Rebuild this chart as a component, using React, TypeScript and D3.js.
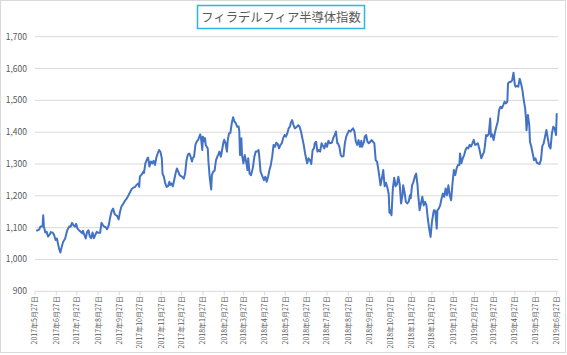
import React from 'react';
import * as d3 from 'd3';

const TITLE = 'フィラデルフィア半導体指数';
const Y_TICKS = [900, 1000, 1100, 1200, 1300, 1400, 1500, 1600, 1700];
const X_TICKS = [
  '2017-05-27', '2017-06-27', '2017-07-27', '2017-08-27', '2017-09-27', '2017-10-27', '2017-11-27', '2017-12-27',
  '2018-01-27', '2018-02-27', '2018-03-27', '2018-04-27', '2018-05-27', '2018-06-27', '2018-07-27', '2018-08-27',
  '2018-09-27', '2018-10-27', '2018-11-27', '2018-12-27', '2019-01-27', '2019-02-27', '2019-03-27', '2019-04-27',
  '2019-05-27', '2019-06-27',
];

const DATES = [
  '2017-05-30','2017-06-02','2017-06-04','2017-06-07','2017-06-08','2017-06-09','2017-06-11','2017-06-13','2017-06-15','2017-06-17',
  '2017-06-19','2017-06-22','2017-06-24','2017-06-26','2017-06-28','2017-06-30','2017-07-01','2017-07-03','2017-07-05','2017-07-07',
  '2017-07-10','2017-07-13','2017-07-16','2017-07-18','2017-07-20','2017-07-22','2017-07-24','2017-07-26','2017-07-28','2017-07-31',
  '2017-08-02','2017-08-04','2017-08-05','2017-08-07','2017-08-09','2017-08-11','2017-08-13','2017-08-15','2017-08-17','2017-08-19',
  '2017-08-21','2017-08-23','2017-08-25','2017-08-27','2017-08-30','2017-09-01','2017-09-03','2017-09-05','2017-09-07','2017-09-09',
  '2017-09-11','2017-09-12','2017-09-14','2017-09-16','2017-09-18','2017-09-20','2017-09-22','2017-09-24','2017-09-26','2017-09-28',
  '2017-09-30','2017-10-03','2017-10-05','2017-10-08','2017-10-10','2017-10-13','2017-10-15','2017-10-17','2017-10-20','2017-10-22',
  '2017-10-25','2017-10-26','2017-10-27','2017-10-30','2017-11-01','2017-11-02','2017-11-04','2017-11-07','2017-11-08','2017-11-10',
  '2017-11-12','2017-11-14','2017-11-16','2017-11-18','2017-11-20','2017-11-22','2017-11-24','2017-11-26','2017-11-28','2017-11-29',
  '2017-12-01','2017-12-03','2017-12-05','2017-12-07','2017-12-09','2017-12-10','2017-12-12','2017-12-14','2017-12-16','2017-12-18',
  '2017-12-20','2017-12-22','2017-12-24','2017-12-26','2017-12-28','2017-12-30','2018-01-01','2018-01-03','2018-01-05','2018-01-07',
  '2018-01-09','2018-01-11','2018-01-12','2018-01-14','2018-01-16','2018-01-18','2018-01-20','2018-01-23','2018-01-24','2018-01-26',
  '2018-01-27','2018-01-29','2018-01-30','2018-01-31','2018-02-03','2018-02-04','2018-02-06','2018-02-08','2018-02-09','2018-02-11',
  '2018-02-13','2018-02-15','2018-02-17','2018-02-18','2018-02-20','2018-02-22','2018-02-23','2018-02-26','2018-02-27','2018-03-01',
  '2018-03-03','2018-03-04','2018-03-06','2018-03-08','2018-03-10','2018-03-12','2018-03-14','2018-03-16','2018-03-18','2018-03-20',
  '2018-03-21','2018-03-22','2018-03-24','2018-03-25','2018-03-27','2018-03-29','2018-03-31','2018-04-02','2018-04-03','2018-04-05',
  '2018-04-07','2018-04-09','2018-04-10','2018-04-12','2018-04-14','2018-04-16','2018-04-18','2018-04-19','2018-04-21','2018-04-23',
  '2018-04-25','2018-04-26','2018-04-28','2018-04-30','2018-05-02','2018-05-04','2018-05-06','2018-05-08','2018-05-10','2018-05-12',
  '2018-05-14','2018-05-16','2018-05-18','2018-05-20','2018-05-22','2018-05-24','2018-05-26','2018-05-28','2018-05-30','2018-06-01',
  '2018-06-03','2018-06-04','2018-06-06','2018-06-08','2018-06-10','2018-06-13','2018-06-15','2018-06-17','2018-06-19','2018-06-21',
  '2018-06-23','2018-06-25','2018-06-27','2018-06-28','2018-06-30','2018-07-02','2018-07-04','2018-07-06','2018-07-08','2018-07-09',
  '2018-07-11','2018-07-13','2018-07-15','2018-07-17','2018-07-19','2018-07-21','2018-07-23','2018-07-25','2018-07-27','2018-07-29',
  '2018-07-31','2018-08-03','2018-08-05','2018-08-07','2018-08-09','2018-08-11','2018-08-12','2018-08-14','2018-08-16','2018-08-18',
  '2018-08-20','2018-08-22','2018-08-24','2018-08-26','2018-08-28','2018-08-30','2018-09-01','2018-09-03','2018-09-05','2018-09-07',
  '2018-09-09','2018-09-11','2018-09-13','2018-09-15','2018-09-16','2018-09-19','2018-09-20','2018-09-22','2018-09-24','2018-09-26',
  '2018-09-28','2018-09-30','2018-10-02','2018-10-04','2018-10-06','2018-10-08','2018-10-10','2018-10-12','2018-10-13','2018-10-15',
  '2018-10-17','2018-10-19','2018-10-21','2018-10-23','2018-10-25','2018-10-26','2018-10-27','2018-10-29','2018-10-31','2018-11-02',
  '2018-11-04','2018-11-06','2018-11-08','2018-11-10','2018-11-12','2018-11-14','2018-11-15','2018-11-17','2018-11-19','2018-11-21',
  '2018-11-23','2018-11-25','2018-11-26','2018-11-28','2018-11-30','2018-12-02','2018-12-04','2018-12-06','2018-12-07','2018-12-09',
  '2018-12-11','2018-12-13','2018-12-15','2018-12-17','2018-12-19','2018-12-21','2018-12-23','2018-12-25','2018-12-27','2018-12-29',
  '2018-12-30','2019-01-01','2019-01-03','2019-01-04','2019-01-06','2019-01-08','2019-01-10','2019-01-12','2019-01-14','2019-01-16',
  '2019-01-18','2019-01-20','2019-01-22','2019-01-24','2019-01-26','2019-01-28','2019-01-30','2019-02-01','2019-02-03','2019-02-05',
  '2019-02-06','2019-02-08','2019-02-10','2019-02-12','2019-02-14','2019-02-16','2019-02-18','2019-02-20','2019-02-22','2019-02-24',
  '2019-02-26','2019-02-28','2019-03-02','2019-03-04','2019-03-06','2019-03-09','2019-03-10','2019-03-13','2019-03-14','2019-03-16',
  '2019-03-18','2019-03-20','2019-03-22','2019-03-23','2019-03-25','2019-03-27','2019-03-29','2019-03-31','2019-04-02','2019-04-04',
  '2019-04-06','2019-04-08','2019-04-10','2019-04-12','2019-04-14','2019-04-16','2019-04-17','2019-04-19','2019-04-21','2019-04-23',
  '2019-04-25','2019-04-27','2019-04-28','2019-04-30','2019-05-02','2019-05-04','2019-05-06','2019-05-08','2019-05-10','2019-05-12',
  '2019-05-13','2019-05-14','2019-05-16','2019-05-18','2019-05-19','2019-05-21','2019-05-23','2019-05-25','2019-05-27','2019-05-29',
  '2019-05-31','2019-06-02','2019-06-04','2019-06-06','2019-06-08','2019-06-10','2019-06-12','2019-06-14','2019-06-16','2019-06-18',
  '2019-06-20','2019-06-22','2019-06-24','2019-06-26','2019-06-27',
];

const VALUES = [
  1091,1094,1104,1104,1139,1104,1085,1087,1072,1077,
  1086,1084,1076,1061,1066,1045,1035,1022,1040,1055,
  1066,1092,1104,1103,1115,1108,1103,1112,1097,1090,
  1086,1082,1090,1077,1066,1087,1092,1072,1067,1085,
  1067,1077,1087,1084,1084,1115,1108,1103,1102,1095,
  1104,1112,1136,1153,1160,1144,1139,1136,1126,1150,
  1166,1176,1184,1192,1200,1213,1221,1225,1228,1234,
  1239,1228,1260,1268,1276,1272,1302,1318,1320,1292,
  1308,1302,1310,1297,1320,1333,1344,1338,1318,1270,
  1260,1239,1228,1230,1244,1234,1239,1230,1249,1270,
  1286,1276,1265,1262,1259,1254,1270,1312,1330,1333,
  1323,1308,1318,1323,1360,1371,1376,1393,1385,1344,
  1386,1371,1381,1360,1349,1307,1255,1220,1265,1276,
  1279,1312,1323,1328,1339,1323,1333,1370,1376,1365,
  1339,1372,1396,1398,1428,1447,1433,1428,1417,1418,
  1403,1328,1381,1328,1302,1328,1307,1281,1318,1270,
  1265,1281,1291,1323,1339,1339,1344,1328,1276,1265,
  1255,1249,1260,1244,1260,1281,1297,1323,1360,1354,
  1367,1363,1349,1360,1365,1381,1391,1386,1396,1412,
  1418,1428,1438,1423,1412,1417,1422,1417,1402,1381,
  1360,1333,1312,1302,1318,1312,1300,1344,1349,1365,
  1370,1339,1344,1339,1365,1357,1349,1365,1354,1373,
  1365,1367,1381,1391,1402,1365,1365,1354,1328,1323,
  1325,1365,1386,1396,1405,1402,1407,1412,1402,1370,
  1360,1375,1354,1373,1354,1370,1386,1391,1370,1365,
  1370,1375,1370,1365,1312,1307,1281,1249,1233,1255,
  1281,1230,1241,1226,1205,1147,1155,1139,1223,1257,
  1230,1236,1260,1236,1176,1202,1233,1212,1181,1176,
  1181,1202,1192,1233,1243,1260,1270,1233,1202,1155,
  1176,1197,1170,1181,1170,1128,1097,1071,1118,1145,
  1155,1152,1097,1155,1160,1170,1191,1207,1197,1223,
  1202,1233,1202,1186,1239,1281,1265,1286,1297,1297,
  1333,1302,1318,1328,1344,1352,1349,1360,1355,1365,
  1376,1360,1362,1365,1349,1318,1323,1338,1352,1391,
  1388,1396,1443,1386,1393,1375,1400,1417,1433,1469,
  1480,1475,1485,1496,1490,1496,1553,1558,1558,1563,
  1587,1548,1543,1545,1543,1568,1553,1532,1500,1474,
  1448,1406,1454,1422,1370,1354,1333,1312,1318,1304,
  1302,1300,1312,1356,1365,1386,1407,1381,1356,1349,
  1396,1417,1412,1391,1457,
];

const W = 567;
const H = 355;
const FONT = "'Noto Sans CJK JP', 'Noto Sans', sans-serif";

export default function App() {
  const parse = d3.timeParse('%Y-%m-%d');
  const data = DATES.map((d, i) => ({ date: parse(d) as Date, value: VALUES[i] }));
  const tickDates = X_TICKS.map((d) => parse(d) as Date);

  const x = d3.scaleTime().domain([tickDates[0], tickDates[tickDates.length - 1]]).range([35, 556.7]);
  const y = d3.scaleLinear().domain([900, 1700]).range([291.3, 36.7]);

  const line = d3
    .line<{ date: Date; value: number }>()
    .x((d) => x(d.date))
    .y((d) => y(d.value));

  const fmtY = d3.format(',');
  const fmtX = (d: Date) => `${d.getFullYear()}年${d.getMonth() + 1}月${d.getDate()}日`;

  return (
    <svg width={W} height={H} style={{ position: 'absolute', left: 0, top: 0, background: '#fff' }} fontFamily={FONT}>
      <rect x={0.5} y={0.5} width={565} height={352} fill="#fff" stroke="#d9d9d9" />
      <rect x={197.5} y={5.5} width={167} height={23} fill="none" stroke="#2eb4e6" strokeWidth={1.5} />
      <text x={281} y={22} textAnchor="middle" fontSize={12.3} fill="#595959">{TITLE}</text>

      {Y_TICKS.map((t) => (
        <g key={t}>
          <line x1={35} x2={558} y1={y(t)} y2={y(t)} stroke="#d9d9d9" strokeWidth={1} />
          <text x={27} y={y(t)} dy="0.35em" textAnchor="end" fontSize={8.5} fill="#595959">{fmtY(t)}</text>
        </g>
      ))}

      {tickDates.map((d, i) => (
        <g key={i}>
          <line x1={x(d)} x2={x(d)} y1={y(900)} y2={y(900) + 4} stroke="#d9d9d9" />
          <text
            transform={`translate(${x(d)},${y(900) + 5}) rotate(-90)`}
            dy="0.35em"
            textAnchor="end"
            fontSize={7}
            fill="#595959"
          >
            {fmtX(d)}
          </text>
        </g>
      ))}

      <path d={line(data) || ''} fill="none" stroke="#4472c4" strokeWidth={2} strokeLinejoin="round" strokeLinecap="round" />
    </svg>
  );
}
